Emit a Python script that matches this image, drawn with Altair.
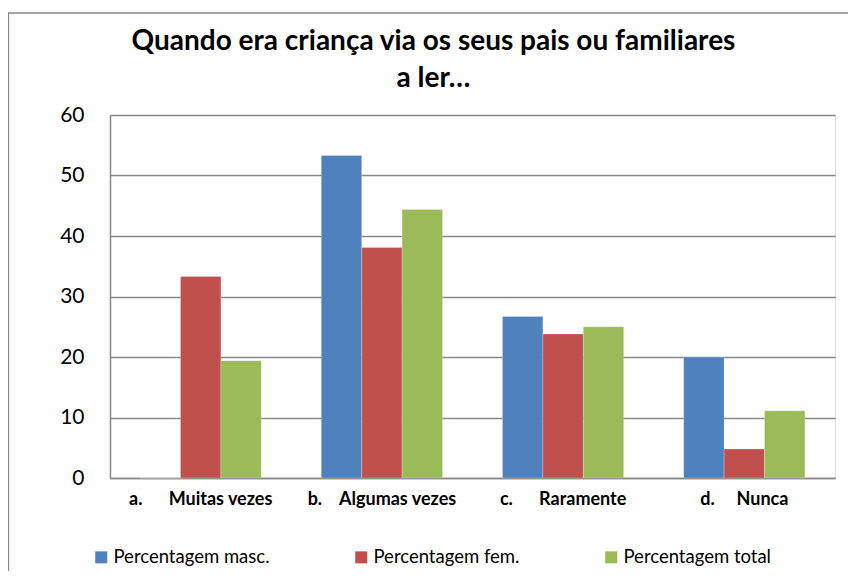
import altair as alt
import pandas as pd

title_lines = ["Quando era criança via os seus pais ou familiares", "a ler…"]
categories = ["a.\u00a0\u00a0\u00a0\u00a0\u00a0\u00a0Muitas vezes",
              "b.\u00a0\u00a0\u00a0\u00a0Algumas vezes",
              "c.\u00a0\u00a0\u00a0\u00a0\u00a0\u00a0Raramente",
              "d.\u00a0\u00a0\u00a0\u00a0\u00a0Nunca"]
series = ["Percentagem masc.", "Percentagem fem.", "Percentagem total"]
masc = [0.0, 53.3, 26.7, 20.0]
fem = [33.3, 38.1, 23.8, 4.8]
total = [19.4, 44.4, 25.0, 11.1]
colors = ["#4F81BD", "#C0504D", "#9BBB59"]
y_ticks = [0, 10, 20, 30, 40, 50, 60]

rows = []
for s, vals in zip(series, [masc, fem, total]):
    for c, v in zip(categories, vals):
        rows.append({"cat": c, "serie": s, "valor": v})
df = pd.DataFrame(rows)

FONT = "Lato"

bars = alt.Chart(df).mark_bar(stroke="#ffffff", strokeWidth=0.4, strokeOpacity=0.6).encode(
    x=alt.X("cat:N", sort=categories, title=None,
            scale=alt.Scale(paddingInner=0.331, paddingOuter=0.166),
            axis=alt.Axis(labelAngle=0, labelFontWeight="bold", labelFontSize=18,
                          labelFont=FONT, labelColor="#000000", ticks=False,
                          labelPadding=12, domainColor="#888888", domainWidth=1.5,
                          grid=False)),
    xOffset=alt.XOffset("serie:N", sort=series),
    y=alt.Y("valor:Q", title=None,
            scale=alt.Scale(domain=[0, 60], nice=False),
            axis=alt.Axis(values=y_ticks, ticks=False, labelPadding=26,
                          labelFontSize=21, labelFont=FONT, labelColor="#000000",
                          domainColor="#888888", domainWidth=1.5,
                          gridColor="#888888", gridWidth=1.5)),
    color=alt.Color("serie:N", sort=series,
                    scale=alt.Scale(domain=series, range=colors),
                    legend=alt.Legend(title=None, orient="none", direction="horizontal",
                                      legendX=-18, legendY=433, padding=0,
                                      symbolType="square", symbolSize=144,
                                      symbolStrokeWidth=0, labelOffset=3,
                                      labelFontSize=18.5, labelFont=FONT,
                                      labelColor="#000000", columnPadding=82,
                                      labelLimit=300)),
)

frame = alt.Chart(alt.Data(values=[{}])).mark_rect(
    fill=None, stroke="#888888", strokeWidth=1.3
).encode(
    x=alt.value(-101.5), x2=alt.value(760),
    y=alt.value(-102), y2=alt.value(500),
)

title = alt.Chart(alt.Data(values=[{}])).mark_text(
    font=FONT, fontSize=28, fontWeight="bold", color="#000000",
    align="center", baseline="alphabetic", lineHeight=37,
).encode(
    x=alt.value(323.5), y=alt.value(-65),
    text=alt.value(title_lines),
)

chart = alt.layer(frame, bars, title).properties(
    width=725, height=363,
    padding={"left": 102, "top": 107, "right": 13, "bottom": 93},
    autosize=alt.AutoSizeParams(type="none"),
).configure_view(stroke=None).configure(background="#ffffff")

chart.save("out.html", embed_options={"renderer": "svg", "actions": False})
